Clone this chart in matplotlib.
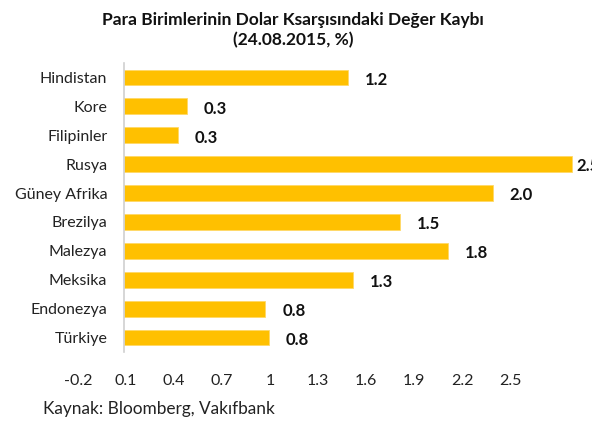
import numpy as np
import matplotlib.pyplot as plt

plt.rcParams['font.family'] = ['Lato', 'DejaVu Sans']

countries = ['Hindistan', 'Kore', 'Filipinler', 'Rusya', 'Güney Afrika',
             'Brezilya', 'Malezya', 'Meksika', 'Endonezya', 'Türkiye']
values = [1.25, 0.35, 0.30, 2.50, 2.06, 1.54, 1.81, 1.28, 0.79, 0.81]
labels = ['1.2', '0.3', '0.3', '2.5', '2.0', '1.5', '1.8', '1.3', '0.8', '0.8']
xticks = [-0.2, 0.1, 0.4, 0.7, 1.0, 1.3, 1.6, 1.9, 2.2, 2.5]
xtick_labels = ['-0.2', '0.1', '0.4', '0.7', '1', '1.3', '1.6', '1.9', '2.2', '2.5']

W, H = 592, 423
fig = plt.figure(figsize=(W / 100, H / 100), dpi=100)

# main bar axes: left edge at the value-0 line
ax = fig.add_axes([124 / W, 1 - 352 / H, (W - 124) / W, 289 / H])
y = np.arange(len(countries))
ax.barh(y, values, height=0.55, color='#FFC000', edgecolor='#FFD966', linewidth=0.6)
ax.set_ylim(len(countries) - 0.5, -0.5)
ax.set_xlim(0, (W - 124) / 179)
ax.set_yticks(y)
ax.set_yticklabels(countries, fontsize=11.5, color='#222222')
ax.tick_params(axis='y', length=0, pad=12)
ax.set_xticks([])
for s in ['top', 'right', 'bottom']:
    ax.spines[s].set_visible(False)
ax.spines['left'].set_color('#D0D0D0')
ax.spines['left'].set_linewidth(1.2)

for yi, v, lab in zip(y, values, labels):
    # Excel pulls the label in when it would run off the chart
    ax.text(min(v + 0.095, 2.525), yi + 0.08, lab, va='center', ha='left', fontsize=12,
            fontweight='bold', color='#111111', clip_on=False)

# separate value axis, as in the original (offset scale)
ax2 = fig.add_axes([50 / W, 1 - 352 / H, (W - 50) / W, 289 / H], frameon=False)
ax2.patch.set_visible(False)
ax2.set_xlim(-0.2 - 28 / 160, -0.2 + (W - 78) / 160)
ax2.set_xticks(xticks)
ax2.set_xticklabels(xtick_labels, fontsize=11.5, color='#222222')
ax2.tick_params(axis='x', length=0, pad=16)
ax2.set_yticks([])

fig.text(0.495, 0.972, 'Para Birimlerinin Dolar Ksarşısındaki Değer Kaybı\n(24.08.2015, %)',
         ha='center', va='top', fontsize=12.5, fontweight='bold', color='#111111',
         linespacing=1.3)
fig.text(43 / W, 1 - 409 / H, 'Kaynak: Bloomberg, Vakıfbank', ha='left', va='center',
         fontsize=12.4, color='#222222')

fig.savefig('out.png', dpi=100)
